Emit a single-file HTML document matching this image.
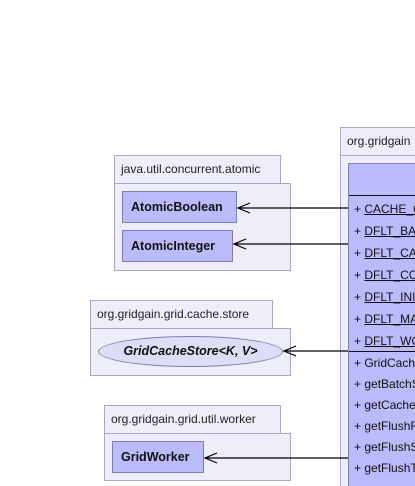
<!DOCTYPE html>
<html><head><style>
html,body{margin:0;width:415px;height:486px;overflow:hidden;}
body{background:#fff;position:relative;font-family:"Liberation Sans","DejaVu Sans",sans-serif;}
.p{position:absolute;background:#eeeefb;border:1px solid #a8a8c0;box-sizing:border-box;}
.t{position:absolute;background:#eeeefb;border:1px solid #a8a8c0;box-sizing:border-box;font-size:12px;color:#222;padding:6px 0 0 6px;white-space:nowrap;overflow:hidden;}
.c{position:absolute;background:#bbbbfb;border:1px solid #8080b0;box-sizing:border-box;font-size:12.5px;font-weight:bold;color:#111;padding:0 0 0 8px;}
.r{position:absolute;left:5px;font-size:12px;color:#111;white-space:nowrap;}
.u{text-decoration:underline;}
</style></head><body>
<div class="t" style="left:114px;top:155px;width:167px;height:29px">java.util.concurrent.atomic</div>
<div class="p" style="left:114px;top:183px;width:177px;height:88px"></div>
<div class="c" style="left:122px;top:191px;width:115px;height:32px;line-height:30px">AtomicBoolean</div>
<div class="c" style="left:122px;top:230px;width:111px;height:32px;line-height:30px">AtomicInteger</div>

<div class="t" style="left:90px;top:300px;width:183px;height:29px">org.gridgain.grid.cache.store</div>
<div class="p" style="left:90px;top:328px;width:201px;height:48px"></div>
<div style="position:absolute;left:98px;top:336px;width:185px;height:31px;border:1px solid #8080b0;border-radius:50%;box-sizing:border-box;background:#ddddf6;font-size:12.5px;font-weight:bold;font-style:italic;text-align:center;line-height:29px;color:#111">GridCacheStore&lt;K, V&gt;</div>

<div class="t" style="left:104px;top:405px;width:177px;height:29px">org.gridgain.grid.util.worker</div>
<div class="p" style="left:104px;top:433px;width:187px;height:48px"></div>
<div class="c" style="left:112px;top:441px;width:92px;height:32px;line-height:30px">GridWorker</div>

<div class="t" style="left:340px;top:127px;width:75px;height:29px;border-right:none">org.gridgain</div>
<div class="p" style="left:340px;top:155px;width:75px;height:331px;border-right:none;border-bottom:none"></div>
<div style="position:absolute;left:348px;top:163px;width:67px;height:323px;background:#bbbbfb;border:1px solid #8080b0;border-right:none;border-bottom:none;box-sizing:border-box;overflow:hidden">
<div style="position:absolute;left:0;top:31px;width:67px;height:1px;background:#111"></div>
<div style="position:absolute;left:0;top:187px;width:67px;height:1px;background:#111"></div>
<div class="r" style="top:38px">+ <span class="u">CACHE_CONFIG</span></div>
<div class="r" style="top:60px">+ <span class="u">DFLT_BATCH</span></div>
<div class="r" style="top:82px">+ <span class="u">DFLT_CACHE</span></div>
<div class="r" style="top:104px">+ <span class="u">DFLT_CONC</span></div>
<div class="r" style="top:126px">+ <span class="u">DFLT_INIT</span></div>
<div class="r" style="top:148px">+ <span class="u">DFLT_MAX</span></div>
<div class="r" style="top:170px">+ <span class="u">DFLT_WORK</span></div>
<div class="r" style="top:192px">+ GridCacheStore</div>
<div class="r" style="top:213px">+ getBatchSize</div>
<div class="r" style="top:234px">+ getCacheName</div>
<div class="r" style="top:255px">+ getFlushFreq</div>
<div class="r" style="top:276px">+ getFlushSize</div>
<div class="r" style="top:297px">+ getFlushThreads</div>
</div>

<svg style="position:absolute;left:0;top:0" width="415" height="486">
<g stroke="#000" stroke-width="1.2" fill="none">
<path d="M348 208H238M250 203L238 208L250 213"/>
<path d="M348 244H234M246 239L234 244L246 249"/>
<path d="M348 351H284M296 346L284 351L296 356"/>
<path d="M348 458H205M217 453L205 458L217 463"/>
</g></svg>
</body></html>
